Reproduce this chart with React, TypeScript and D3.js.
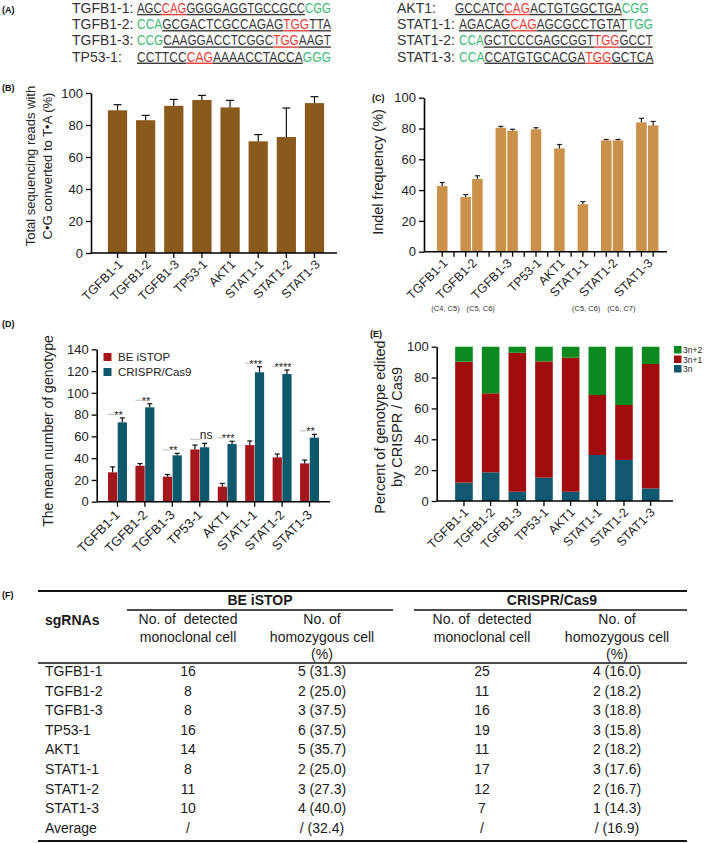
import React, { useEffect, useRef } from 'react';
import * as d3 from 'd3';

const FONT = "'Liberation Sans', Arial, Helvetica, sans-serif";

// (A) sgRNA sequences: [..] = target codon (red), {..} = PAM (green), rest underlined
const seqNames = ['TGFB1-1:', 'TGFB1-2:', 'TGFB1-3:', 'TP53-1:', 'AKT1:', 'STAT1-1:', 'STAT1-2:', 'STAT1-3:'];
const seqMarkup = [
  'AGC[CAG]GGGGAGGTGCCGCC{CGG}',
  '{CCA}GCGACTCGCCAGAG[TGG]TTA',
  '{CCG}CAAGGACCTCGGC[TGG]AAGT',
  'CCTTCC[CAG]AAAACCTACCA{GGG}',
  'GCCATC[CAG]ACTGTGGCTGA{CGG}',
  'AGACAG[CAG]AGCGCCTGTAT{TGG}',
  '{CCA}GCTCCCGAGCGGT[TGG]GCCT',
  '{CCA}CCATGTGCACGA[TGG]GCTCA',
];

const sgRNAs = ['TGFB1-1', 'TGFB1-2', 'TGFB1-3', 'TP53-1', 'AKT1', 'STAT1-1', 'STAT1-2', 'STAT1-3'];

// (B) C•G -> T•A conversion (%)
const convMean = [89.2, 83, 92, 95.6, 91, 69.8, 72.5, 93.7];
const convErr = [3.5, 3, 4, 2.9, 4.4, 4.2, 18.1, 4];

// (C) indel frequency (%), one or two cytosine sites per sgRNA
const indelSites = ['', '(C4, C5)', '(C5, C6)', '', '', '', '(C5, C6)', '(C6, C7)'];
const indelMean = [[42.6], [35.5, 47.2], [80.5, 78.5], [79.5], [67.1], [30.8], [72.3, 72.3], [84, 82]];
const indelErr = [[2.3], [1.6, 2.1], [0.9, 1], [1], [2.5], [1.7], [0.6, 0.6], [2.6, 2.6]];

// (D) mean number of genotypes
const beMean = [27, 33, 23, 48, 13.8, 52, 40.7, 35.2];
const beErr = [5, 2, 2, 4, 3, 3.8, 3.1, 3.1];
const casMean = [72.9, 86.7, 42.6, 50, 53, 118.9, 117.3, 58.8];
const casErr = [4.1, 3.3, 1.8, 3.6, 2.5, 5.1, 3.7, 3.1];
const sigLabels = ['**', '**', '**', 'ns', '***', '***', '****', '**'];

// (E) percent of genotype by frame (CRISPR/Cas9)
const frame3n = [11.9, 18.6, 6, 15.1, 6, 29.8, 26.6, 8.2];
const frame3n1 = [78.4, 51.2, 90.1, 75.4, 86.9, 38.9, 35.6, 80.6];
const frame3n2 = [9.7, 30.2, 3.9, 9.5, 7.1, 31.3, 37.8, 11.2];

// (F) table
const beDetected = ['16', '8', '8', '16', '14', '8', '11', '10', '/'];
const beHomo = ['5 (31.3)', '2 (25.0)', '3 (37.5)', '6 (37.5)', '5 (35.7)', '2 (25.0)', '3 (27.3)', '4 (40.0)', '/ (32.4)'];
const casDetected = ['25', '11', '16', '19', '11', '17', '12', '7', '/'];
const casHomo = ['4 (16.0)', '2 (18.2)', '3 (18.8)', '3 (15.8)', '2 (18.2)', '3 (17.6)', '2 (16.7)', '1 (14.3)', '/ (16.9)'];
const tableRows = [...sgRNAs, 'Average'];

function parseSeq(s: string) {
    const parts: { t: string; k: 'u' | 'r' | 'g' }[] = [];
    const re = /\[([A-Z]+)\]|\{([A-Z]+)\}|([A-Z]+)/g;
    let m: RegExpExecArray | null;
    while ((m = re.exec(s))) {
        if (m[1]) parts.push({ t: m[1], k: 'r' });
        else if (m[2]) parts.push({ t: m[2], k: 'g' });
        else parts.push({ t: m[3], k: 'u' });
    }
    return parts;
}

function panelLabel(svg: any, text: string, x: number, y: number) {
    svg.append('text').attr('x', x).attr('y', y).attr('font-size', 9).attr('font-weight', 'bold')
        .attr('fill', '#111').text(text);
}

function leftAxis(svg: any, y: any, x0: number, ticks: number[]) {
    const ax = svg.append('g').attr('transform', `translate(${x0},0)`)
        .call(d3.axisLeft(y).tickValues(ticks).tickSize(5).tickSizeOuter(0).tickPadding(3));
    ax.select('.domain').attr('stroke-width', 1.6);
    ax.selectAll('.tick line').attr('stroke-width', 1.3);
    ax.selectAll('.tick text').attr('font-size', 13).attr('font-family', FONT).attr('fill', '#222');
}

function bottomAxis(svg: any, x: any, y0: number, x0: number, x1: number) {
    const ax = svg.append('g').attr('transform', `translate(0,${y0})`)
        .call(d3.axisBottom(x).tickSize(5).tickSizeOuter(0).tickFormat(() => ''));
    ax.select('.domain').remove();
    ax.selectAll('.tick line').attr('stroke-width', 1.3);
    svg.append('line').attr('x1', x0).attr('x2', x1).attr('y1', y0).attr('y2', y0)
        .attr('stroke', '#000').attr('stroke-width', 1.6);
}

function rotLabels(svg: any, labels: string[], xs: number[], y0: number, size: number) {
    svg.append('g').selectAll('text').data(labels).join('text')
        .attr('transform', (_d: string, i: number) => `translate(${xs[i]},${y0 + 9}) rotate(-45)`)
        .attr('text-anchor', 'end').attr('dy', '0.35em').attr('font-size', size).attr('fill', '#222')
        .text((d: string) => d);
}

function errBars(svg: any, xs: number[], yTop: number[], yEnd: number[], cap: number, color = '#111') {
    const g = svg.append('g').attr('stroke', color).attr('stroke-width', 1.2);
    xs.forEach((x, i) => {
        g.append('line').attr('x1', x).attr('x2', x).attr('y1', yTop[i]).attr('y2', yEnd[i]);
        g.append('line').attr('x1', x - cap / 2).attr('x2', x + cap / 2).attr('y1', yEnd[i]).attr('y2', yEnd[i]);
    });
}

function yTitle(svg: any, lines: string[], xs: number[], cy: number, size: number) {
    lines.forEach((t, i) => {
        svg.append('text').attr('transform', `translate(${xs[i]},${cy}) rotate(-90)`)
            .attr('text-anchor', 'middle').attr('font-size', size).attr('fill', '#222').text(t);
    });
}

function drawSequences(svg: any) {
    panelLabel(svg, '(A)', 2, 13);
    const baselines = [12.8, 29, 45.3, 61.5];
    seqNames.forEach((name, i) => {
        const col = i < 4 ? 0 : 1;
        const yy = baselines[i % 4];
        const labelX = col === 0 ? 72 : 397;
        const seqX = col === 0 ? 137 : (name === 'AKT1:' ? 455 : 459);
        svg.append('text').attr('x', labelX).attr('y', yy).attr('font-size', 14).attr('fill', '#333').text(name);
        // sequence drawn at natural width, then squeezed horizontally to the narrow look of the figure
        const g = svg.append('g').attr('transform', `translate(${seqX},${yy})`);
        const t = g.append('text').attr('x', 0).attr('y', 0).attr('font-size', 14);
        parseSeq(seqMarkup[i]).forEach(p => {
            t.append('tspan')
                .attr('fill', p.k === 'r' ? '#e8403a' : p.k === 'g' ? '#3dbb74' : '#3a3a3a')
                .style('text-decoration', p.k === 'g' ? 'none' : 'underline')
                .text(p.t);
        });
        const w = (t.node() as SVGTextElement).getComputedTextLength() || 238;
        g.attr('transform', `translate(${seqX},${yy}) scale(${194 / w},1)`);
    });
}

function drawPanelB(svg: any) {
    panelLabel(svg, '(B)', 2, 91);
    const x = d3.scaleBand<string>().domain(sgRNAs).range([99, 333]).padding(0.316);
    const y = d3.scaleLinear().domain([0, 100]).range([253, 93]);
    svg.append('g').selectAll('rect').data(convMean).join('rect')
        .attr('x', (_d: number, i: number) => x(sgRNAs[i])!).attr('width', x.bandwidth())
        .attr('y', (d: number) => y(d)).attr('height', (d: number) => y(0) - y(d)).attr('fill', '#8a5a1c');
    const cx = sgRNAs.map(s => x(s)! + x.bandwidth() / 2);
    errBars(svg, cx, convMean.map(v => y(v)), convMean.map((v, i) => y(v + convErr[i])), 8);
    leftAxis(svg, y, 91, [0, 20, 40, 60, 80, 100]);
    bottomAxis(svg, x, 253, 91, 337);
    rotLabels(svg, sgRNAs, cx.map(v => v + 3), 253, 12.5);
    yTitle(svg, ['Total sequencing reads with', 'C\u2022G converted to T\u2022A (%)'], [35, 51.5], 166, 13);
}

function drawPanelC(svg: any) {
    panelLabel(svg, '(C)', 372, 101);
    const slots: { g: number; k: number }[] = [];
    indelMean.forEach((vals, gi) => {
        if (gi > 0) slots.push({ g: -1, k: -1 });
        vals.forEach((_v, k) => slots.push({ g: gi, k }));
    });
    const x = d3.scaleBand<number>().domain(d3.range(slots.length)).range([435.8, 659.6]).padding(0.1);
    const y = d3.scaleLinear().domain([0, 100]).range([251.7, 97.7]);
    const bars = slots.map((s, i) => ({ ...s, i })).filter(s => s.g >= 0);
    const cx = (i: number) => x(i)! + x.bandwidth() / 2;
    svg.append('g').selectAll('rect').data(bars).join('rect')
        .attr('x', (d: any) => x(d.i)!).attr('width', x.bandwidth())
        .attr('y', (d: any) => y(indelMean[d.g][d.k]))
        .attr('height', (d: any) => y(0) - y(indelMean[d.g][d.k])).attr('fill', '#c99149');
    errBars(svg, bars.map(b => cx(b.i)), bars.map(b => y(indelMean[b.g][b.k])),
        bars.map(b => y(indelMean[b.g][b.k] + indelErr[b.g][b.k])), 5, '#222');
    leftAxis(svg, y, 424, [0, 20, 40, 60, 80, 100]);
    bottomAxis(svg, x, 251.7, 424, 667);
    const groupCx = sgRNAs.map((_s, gi) => d3.mean(bars.filter(b => b.g === gi), b => cx(b.i))!);
    rotLabels(svg, sgRNAs, groupCx.map(v => v + 3), 251.7, 12.5);
    svg.append('g').selectAll('text').data(indelSites).join('text')
        .attr('x', (_d: string, i: number) => groupCx[i] - 26).attr('y', 311)
        .attr('text-anchor', 'middle').attr('font-size', 7.5).attr('fill', '#333').text((d: string) => d);
    yTitle(svg, ['Indel frequency (%)'], [383], 172, 14.5);
}

function drawPanelD(svg: any) {
    panelLabel(svg, '(D)', 2, 327);
    const x = d3.scaleBand<string>().domain(sgRNAs).range([99.5, 327.5]).padding(0.31);
    const inner = d3.scaleBand<string>().domain(['be', 'cas']).range([0, x.bandwidth()]).paddingInner(0.05);
    const y = d3.scaleLinear().domain([0, 140]).range([501.7, 349.3]);
    const series = [
        { key: 'be', mean: beMean, err: beErr, color: '#a3161c' },
        { key: 'cas', mean: casMean, err: casErr, color: '#0e586b' },
    ];
    series.forEach(s => {
        svg.append('g').selectAll('rect').data(s.mean).join('rect')
            .attr('x', (_d: number, i: number) => x(sgRNAs[i])! + inner(s.key)!).attr('width', inner.bandwidth())
            .attr('y', (d: number) => y(d)).attr('height', (d: number) => y(0) - y(d)).attr('fill', s.color);
        const cx = sgRNAs.map(n => x(n)! + inner(s.key)! + inner.bandwidth() / 2);
        errBars(svg, cx, s.mean.map(v => y(v)), s.mean.map((v, i) => y(v + s.err[i])), 5);
    });
    const gc = sgRNAs.map(n => x(n)! + x.bandwidth() / 2);
    // significance marks
    sigLabels.forEach((lab, i) => {
        const top = y(Math.max(beMean[i] + beErr[i], casMean[i] + casErr[i]));
        const isNs = lab === 'ns';
        const base = isNs ? top - 4 : top + 1;
        const t = svg.append('text').attr('x', isNs ? gc[i] : gc[i] + 1).attr('y', base)
            .attr('text-anchor', isNs ? 'start' : 'middle').attr('font-size', isNs ? 12 : 11)
            .attr('fill', '#222').text(lab);
        const bb = (t.node() as SVGTextElement).getBBox();
        const ly = isNs ? base : base - 4.5;
        svg.append('line').attr('x1', gc[i] - 9.5).attr('x2', bb.x).attr('y1', ly).attr('y2', ly)
            .attr('stroke', '#999').attr('stroke-width', 0.7);
    });
    leftAxis(svg, y, 96.7, [0, 20, 40, 60, 80, 100, 120, 140]);
    bottomAxis(svg, x, 501.7, 96.7, 330);
    rotLabels(svg, sgRNAs, gc, 503.5, 13);
    // legend
    const leg = [{ t: 'BE iSTOP', c: '#a3161c', y: 353 }, { t: 'CRISPR/Cas9', c: '#0e586b', y: 368 }];
    leg.forEach(l => {
        svg.append('rect').attr('x', 103.5).attr('y', l.y).attr('width', 8).attr('height', 8).attr('fill', l.c);
        svg.append('text').attr('x', 118).attr('y', l.y + 7.5).attr('font-size', 11.5).attr('fill', '#222').text(l.t);
    });
    yTitle(svg, ['The mean number of genotype'], [53], 431, 14);
}

function drawPanelE(svg: any) {
    panelLabel(svg, '(E)', 370, 337);
    const x = d3.scaleBand<string>().domain(sgRNAs).range([446.1, 668.5]).padding(0.34);
    const y = d3.scaleLinear().domain([0, 100]).range([501, 346.7]);
    const rows = sgRNAs.map((n, i) => ({ name: n, f3n: frame3n[i], f3n1: frame3n1[i], f3n2: frame3n2[i] }));
    const keys = ['f3n', 'f3n1', 'f3n2'];
    const colors: Record<string, string> = { f3n: '#0f5870', f3n1: '#a10d0d', f3n2: '#0d8a1f' };
    const stacked = d3.stack<any>().keys(keys)(rows);
    stacked.forEach(layer => {
        svg.append('g').attr('fill', colors[layer.key]).selectAll('rect').data(layer).join('rect')
            .attr('x', (d: any) => x(d.data.name)!).attr('width', x.bandwidth())
            .attr('y', (d: any) => y(d[1])).attr('height', (d: any) => y(d[0]) - y(d[1]));
    });
    leftAxis(svg, y, 436.7, [0, 20, 40, 60, 80, 100]);
    bottomAxis(svg, x, 501, 436.7, 673);
    rotLabels(svg, sgRNAs, sgRNAs.map(n => x(n)! + x.bandwidth() / 2 + 2), 501, 12.5);
    const leg = [{ t: '3n+2', k: 'f3n2' }, { t: '3n+1', k: 'f3n1' }, { t: '3n', k: 'f3n' }];
    leg.forEach((l, i) => {
        const ly = 346 + i * 9.5;
        svg.append('rect').attr('x', 674).attr('y', ly).attr('width', 7.5).attr('height', 7.5).attr('fill', colors[l.k]);
        svg.append('text').attr('x', 683).attr('y', ly + 7).attr('font-size', 8.5).attr('fill', '#222').text(l.t);
    });
    yTitle(svg, ['Percent of genotype edited', 'by CRISPR / Cas9'], [385, 402], 427, 14.5);
}

function drawTable(svg: any) {
    panelLabel(svg, '(F)', 2, 598);
    const line = (x1: number, x2: number, yy: number, w: number) =>
        svg.append('line').attr('x1', x1).attr('x2', x2).attr('y1', yy).attr('y2', yy)
            .attr('stroke', '#111').attr('stroke-width', w);
    line(38, 687, 591, 2);
    line(127, 393, 610, 1.5);
    line(414, 687, 610, 1.5);
    line(38, 687, 663, 1.5);
    line(38, 687, 841, 2.2);
    const txt = (t: string, xx: number, yy: number, anchor = 'middle', bold = false) =>
        svg.append('text').attr('x', xx).attr('y', yy).attr('text-anchor', anchor)
            .attr('font-size', 14).attr('font-weight', bold ? 'bold' : 'normal').attr('fill', '#1a1a1a').text(t);
    txt('BE iSTOP', 260, 605, 'middle', true);
    txt('CRISPR/Cas9', 552, 605, 'middle', true);
    txt('sgRNAs', 45, 625, 'start', true);
    const colX = [188, 322, 482, 617];
    [0, 2].forEach(c => {
        txt('No. of\u00a0 detected', colX[c], 624);
        txt('monoclonal cell', colX[c], 642);
        txt('No. of', colX[c + 1], 624);
        txt('homozygous cell', colX[c + 1], 642);
        txt('(%)', colX[c + 1], 659);
    });
    const cols = [beDetected, beHomo, casDetected, casHomo];
    tableRows.forEach((r, i) => {
        const yy = 676 + i * 19.6;
        txt(r, 45, yy, 'start');
        cols.forEach((col, c) => txt(col[i], colX[c], yy));
    });
}

export default function App() {
    const svgRef = useRef<SVGSVGElement>(null);

    useEffect(() => {
        if (!svgRef.current) return;
        const svg = d3.select(svgRef.current);
        svg.selectAll('*').remove();
        drawSequences(svg);
        drawPanelB(svg);
        drawPanelC(svg);
        drawPanelD(svg);
        drawPanelE(svg);
        drawTable(svg);
    }, []);

    return (
        <svg
            ref={svgRef}
            width={709}
            height={843}
            fontFamily={FONT}
            style={{ position: 'absolute', left: 0, top: 0, background: '#fff' }}
        />
    );
}
